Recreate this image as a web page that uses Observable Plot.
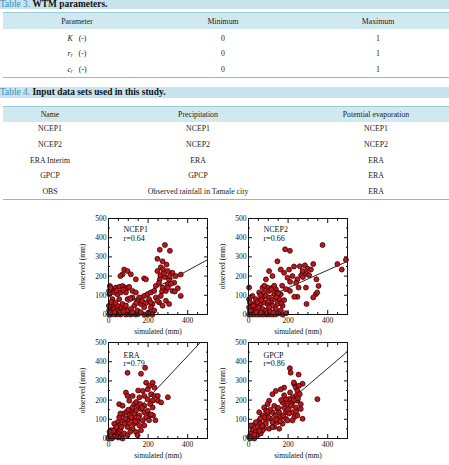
<!DOCTYPE html>
<html>
<head>
<meta charset="utf-8">
<script src="https://cdn.jsdelivr.net/npm/d3@7"></script>
<script src="https://cdn.jsdelivr.net/npm/@observablehq/plot@0.6"></script>
<style>
  html, body { margin: 0; padding: 0; background: #fff; }
  #page { position: relative; width: 449px; height: 465px; overflow: hidden; font-family: "Liberation Serif", "Times New Roman", serif; color: #222; }
  .band { position: absolute; left: 0; width: 449px; background: #c7e3ed; font-size: 9.4px; white-space: nowrap; }
  .band .num { color: #3d8fbd; }
  .band b { color: #111; }
  .rule { position: absolute; left: 3px; width: 446px; }
  .hdr { position: absolute; left: 3px; width: 446px; background: #d0e8f0; }
  .cell { position: absolute; transform: translate(-50%, -50%); font-size: 7.8px; white-space: nowrap; line-height: 1; }
  .cell sub { font-size: 5.5px; vertical-align: -1.5px; }
  .panel { position: absolute; }
</style>
</head>
<body>
<div id="page"></div>
<script>
// ---- Table 3: WTM parameters ----
const paramSymbols = ["K", "r", "c"];
const paramSubscripts = ["", "r", "r"];
const paramMin = [0, 0, 0];
const paramMax = [1, 1, 1];
const table3Header = ["Parameter", "Minimum", "Maximum"];

// ---- Table 4: input data sets ----
const table4Header = ["Name", "Precipitation", "Potential evaporation"];
const dataNames = ["NCEP1", "NCEP2", "ERA Interim", "GPCP", "OBS"];
const dataPrecip = ["NCEP1", "NCEP2", "ERA", "GPCP", "Observed rainfall in Tamale city"];
const dataEvap = ["NCEP1", "NCEP2", "ERA", "ERA", "ERA"];

// ---- Scatter panels: simulated vs observed rainfall (mm) ----
const ncep1 = [
  [285,362],[259,337],[310,332],[247,290],[273,277],[293,260],[264,246],[247,226],[276,234],[300,226],
  [323,217],[340,200],[365,208],[285,195],[259,183],[306,183],[332,166],[350,137],[323,123],[290,123],
  [365,97],[273,140],[239,149],[298,157],[262,205],[280,214],[310,200],[255,165],[270,120],[300,140],
  [316,160],[335,120],
  [79,234],[96,226],[113,209],[71,209],[138,183],[180,188],[189,183],[60,200],
  [7,149],[20,132],[37,140],[54,144],[71,149],[84,140],[96,137],[104,144],[3,123],[29,115],
  [45,106],[62,115],[88,115],[121,123],[138,115],[10,140],[5,105],[40,125],[75,128],
  [20,80],[54,80],[96,80],[121,89],[155,89],[180,97],[197,106],[214,115],[231,123],[205,80],
  [239,89],[256,63],[222,55],[146,72],[163,55],[130,46],[180,38],[214,38],[231,21],[205,12],
  [214,63],[264,97],[247,72],[290,72],[306,55],[273,46],[110,85],[170,70],[190,60],[140,60],
  [222,0],[197,0],[180,0],[138,0],[113,0],[88,0],[62,0],[37,0],[12,0],[3,0],
  [150,3],[125,5],[100,2],[50,3],[25,2],[200,8],
  [12,38],[29,29],[45,21],[62,38],[79,29],[96,21],[20,55],[45,46],[71,55],[88,46],
  [113,29],[121,12],[146,21],[163,12],[3,21],[8,10],[30,12],[55,10],[75,15],[2,45],
  [15,65],[35,60]
];
const ncep2 = [
  [374,362],[185,340],[209,332],[146,277],[285,256],[327,263],[259,251],[298,239],[315,234],[273,226],
  [293,212],[306,205],[266,205],[247,183],[222,200],[197,191],[180,217],[205,234],[163,234],[104,226],
  [121,200],[88,183],[449,263],[471,234],[492,285],[343,183],[354,149],[340,106],[347,115],[327,89],
  [290,140],[253,140],[293,55],[247,92],[231,92],[209,123],[189,132],[163,106],
  [3,140],[20,97],[37,80],[54,115],[71,140],[79,115],[96,140],[104,123],[121,140],[138,132],
  [54,72],[71,89],[88,97],[104,89],[130,106],[146,115],[29,55],[45,46],[62,55],[79,63],
  [96,55],[113,63],[130,80],[155,80],[121,46],[146,55],[172,46],[12,38],[20,21],[37,29],
  [54,21],[71,29],[88,21],[104,38],[138,29],[163,21],
  [3,0],[15,0],[29,0],[45,0],[60,0],[75,0],[90,0],[105,0],[120,0],[135,0],[172,0],[189,7],
  [3,80],[7,63],[3,38],[7,21],[60,10],[95,8],[40,12],[25,45],[50,35],[110,15],
  [125,10],[150,5],[165,60],[180,75],[140,90],[115,130],[60,100],[80,150],[45,65],[65,75],
  [100,70],[130,150],[170,150],[210,170],[240,165],[275,195],[230,250],[150,110]
];
const era = [
  [185,368],[96,342],[164,337],[190,291],[206,274],[223,291],[232,265],[198,256],[173,248],[215,231],
  [232,222],[181,222],[156,214],[198,205],[223,197],[249,222],[249,197],[300,215],[266,188],[225,120],
  [237,95],[88,239],[96,222],[122,222],[54,179],[71,171],[105,197],[130,179],[147,171],[164,154],
  [181,171],[139,145],[113,145],[88,137],[71,128],[105,120],[130,128],[156,120],[181,137],[198,145],
  [206,120],[223,162],[122,103],[147,94],[173,94],[190,111],[96,94],[71,94],[54,111],[46,85],
  [29,77],[54,68],[80,77],[105,77],[130,77],[156,68],[181,68],[164,43],[139,34],[147,17],
  [122,51],[96,60],[12,43],[20,26],[37,34],[46,17],[63,17],[80,26],[3,9],[29,9],
  [71,0],[96,17],[0,0],[17,0],[54,34],[34,51],[8,20],[25,40],[40,60],[60,45],
  [110,35],[150,110],[120,160],[140,190],[160,180],[100,150],[170,160],[210,180],[150,250],[60,130],
  [85,105],[115,110],[135,88],[5,35],[50,5],[65,60],[205,95],[215,125]
];
const gpcp = [
  [209,366],[213,343],[253,333],[231,282],[273,285],[239,265],[180,265],[163,256],[138,248],[121,231],
  [247,248],[259,231],[239,222],[222,214],[205,205],[189,205],[172,188],[197,179],[222,188],[247,197],
  [264,179],[239,162],[264,154],[222,137],[231,111],[247,120],[273,103],[348,205],[229,292],[255,275],
  [104,197],[96,179],[79,162],[88,145],[54,137],[71,120],[96,128],[121,137],[146,154],[155,137],
  [138,120],[163,111],[189,137],[189,103],[113,103],[88,94],[54,94],[37,85],[62,77],[88,77],
  [121,85],[146,85],[172,77],[155,51],[130,60],[197,94],[222,94],[104,51],[79,51],[45,60],
  [20,68],[20,43],[37,34],[12,26],[3,9],[20,9],[45,17],[62,26],[29,0],[7,0],
  [71,43],[12,68],[30,20],[55,40],[70,65],[100,110],[110,150],[130,170],[150,160],[165,200],
  [180,160],[200,150],[215,170],[230,200],[120,60],[140,100],[160,90],[80,110],[95,140],[60,105],
  [175,120],[205,130],[240,140],[250,210],[210,240],[180,225]
];

const panelNames = ["NCEP1", "NCEP2", "ERA", "GPCP"];
const panelR = ["0.64", "0.66", "0.79", "0.86"];
const panelPoints = [ncep1, ncep2, era, gpcp];
const fitSlope = [0.56, 0.46, 1.10, 0.88];
const fitIntercept = [5, 47, -10, 13];

const majorX = [0, 200, 400];
const minorX = [50, 100, 150, 250, 300, 350, 450];
const majorY = [0, 100, 200, 300, 400, 500];
const minorY = [50, 150, 250, 350, 450];

const page = document.getElementById("page");

function el(tag, cls, style, html) {
  const e = document.createElement(tag);
  if (cls) e.className = cls;
  Object.assign(e.style, style);
  if (html != null) e.innerHTML = html;
  page.appendChild(e);
  return e;
}

// ---- tables ----
el("div", "band", {top: "0px", height: "9px", lineHeight: "8px"}, '<span class="num">Table 3.</span> <b>WTM parameters.</b>');
el("div", "rule", {top: "12px", height: "1px", background: "#9ccbdc"});
el("div", "hdr", {top: "13px", height: "16px"});
const t3x = [77, 223, 378];
table3Header.forEach((h, i) => el("div", "cell", {left: t3x[i] + "px", top: "22px"}, h));
const t3rows = [38.5, 54, 70];
paramSymbols.forEach((s, j) => {
  const sym = `<i>${s}</i>${paramSubscripts[j] ? `<sub><i>${paramSubscripts[j]}</i></sub>` : ""}&nbsp;&nbsp;&nbsp;(-)`;
  el("div", "cell", {left: t3x[0] + "px", top: t3rows[j] + "px"}, sym);
  el("div", "cell", {left: t3x[1] + "px", top: t3rows[j] + "px"}, String(paramMin[j]));
  el("div", "cell", {left: t3x[2] + "px", top: t3rows[j] + "px"}, String(paramMax[j]));
});
el("div", "rule", {top: "76.5px", height: "1.5px", background: "#86bdd2"});

el("div", "band", {top: "87px", height: "10.5px", lineHeight: "11px"}, '<span class="num">Table 4.</span> <b>Input data sets used in this study.</b>');
el("div", "rule", {top: "106px", height: "1px", background: "#9ccbdc"});
el("div", "hdr", {top: "107px", height: "14.5px"});
const t4x = [50, 198, 376];
table4Header.forEach((h, i) => el("div", "cell", {left: t4x[i] + "px", top: "114.5px"}, h));
const t4rows = [129, 144.7, 160.5, 176, 191.5];
dataNames.forEach((n, j) => {
  el("div", "cell", {left: t4x[0] + "px", top: t4rows[j] + "px"}, n);
  el("div", "cell", {left: t4x[1] + "px", top: t4rows[j] + "px"}, dataPrecip[j]);
  el("div", "cell", {left: t4x[2] + "px", top: t4rows[j] + "px"}, dataEvap[j]);
});
el("div", "rule", {top: "198.5px", height: "1.5px", background: "#86bdd2"});

// ---- scatter panels ----
const frameW = 99, frameH = 96;
const ML = 36, MR = 4, MT = 6, MB = 28;
const frameLefts = [107.5, 248, 107.5, 248];
const frameTops = [217.5, 217.5, 341.5, 341.5];
const labelDy = [8, 8, 9.5, 9.5];

panelNames.forEach((name, i) => {
  const fit = [0, 500].map(x => [x, fitIntercept[i] + fitSlope[i] * x]);
  const tickMarks = (vals, size) => [
    Plot.axisX(vals.x, {anchor: "bottom", tickSize: -size, fill: "none", stroke: "#111"}),
    Plot.axisX(vals.x, {anchor: "top", tickSize: -size, fill: "none", stroke: "#111"}),
    Plot.axisY(vals.y, {anchor: "left", tickSize: -size, fill: "none", stroke: "#111"}),
    Plot.axisY(vals.y, {anchor: "right", tickSize: -size, fill: "none", stroke: "#111"})
  ];
  const chart = Plot.plot({
    width: ML + frameW + MR,
    height: MT + frameH + MB,
    marginLeft: ML, marginRight: MR, marginTop: MT, marginBottom: MB,
    x: {domain: [0, 500]},
    y: {domain: [0, 500]},
    style: {fontFamily: "'Liberation Serif', 'Times New Roman', serif", fontSize: "7.5px", color: "#111", background: "transparent", overflow: "visible"},
    marks: [
      Plot.line(fit, {x: d => d[0], y: d => d[1], clip: true, stroke: "#111", strokeWidth: 0.9}),
      Plot.dot(panelPoints[i], {x: d => d[0], y: d => d[1], r: 2.5, fill: "#c0161b", stroke: "#220000", strokeWidth: 0.7}),
      Plot.frame({stroke: "#111", strokeWidth: 1}),
      ...tickMarks({x: majorX, y: majorY}, 4),
      ...tickMarks({x: minorX, y: minorY}, 2),
      Plot.axisX(majorX, {anchor: "bottom", tickSize: 0, tickPadding: 3, fill: "#111", label: "simulated (mm)", labelAnchor: "center", labelArrow: "none", labelOffset: 19}),
      Plot.axisY(majorY, {anchor: "left", tickSize: 0, tickPadding: 2, fill: "#111", label: "observed (mm)", labelAnchor: "center", labelArrow: "none", labelOffset: 29}),
      Plot.text([`${name}\nr=${panelR[i]}`], {text: d => d, frameAnchor: "top-left", dx: 15, dy: labelDy[i], textAnchor: "start", lineAnchor: "top", lineHeight: 1.05, fontSize: 8, fill: "#111"})
    ]
  });
  chart.classList.add("panel");
  chart.style.left = (frameLefts[i] - ML) + "px";
  chart.style.top = (frameTops[i] - MT) + "px";
  chart.style.position = "absolute";
  page.appendChild(chart);
});
</script>
</body>
</html>
